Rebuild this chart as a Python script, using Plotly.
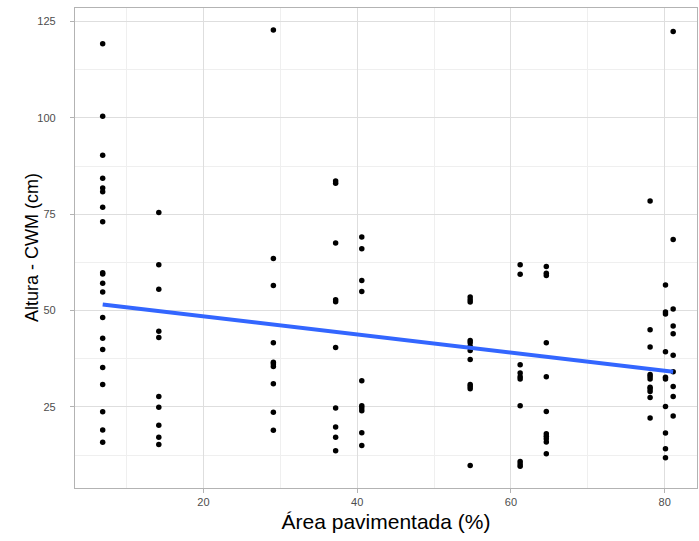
import numpy as np
import plotly.graph_objects as go

# Área pavimentada (%) per site and the Altura CWM values observed there
site_x = [6.9, 14.2, 29.1, 37.2, 40.6, 54.7, 61.2, 64.6, 78.1, 80.1, 81.1]
site_values = [
    [119.2, 100.4, 90.3, 84.3, 81.8, 80.8, 76.8, 73.0, 59.8, 59.5, 57.1, 54.8,
     48.2, 42.8, 39.9, 35.2, 30.8, 23.7, 19.0, 15.8],
    [75.4, 61.9, 55.5, 44.6, 43.0, 27.7, 24.9, 20.2, 17.1, 15.2],
    [122.8, 63.5, 56.5, 41.6, 36.6, 36.1, 35.5, 31.0, 23.6, 18.9],
    [83.6, 83.0, 67.5, 52.8, 52.3, 40.4, 24.7, 19.8, 17.1, 13.6],
    [69.1, 66.0, 57.8, 54.9, 31.8, 25.3, 24.7, 24.0, 18.3, 15.0],
    [53.5, 52.8, 52.2, 42.2, 41.6, 40.7, 39.6, 37.3, 30.8, 30.3, 29.7, 9.8],
    [61.9, 59.4, 35.9, 33.8, 32.8, 32.2, 25.3, 10.8, 10.2, 9.6],
    [61.4, 59.7, 59.1, 41.6, 32.8, 23.8, 18.0, 17.4, 16.7, 15.9, 12.8],
    [78.4, 45.0, 40.5, 33.4, 32.9, 32.2, 30.1, 29.6, 29.0, 27.4, 22.1],
    [56.6, 49.6, 49.1, 39.3, 32.7, 32.2, 25.1, 18.2, 14.1, 11.8],
    [122.4, 68.4, 50.4, 46.0, 44.0, 38.4, 34.1, 30.3, 27.7, 22.6],
]

x_ticks = [20, 40, 60, 80]
y_ticks = [25, 50, 75, 100, 125]
x_title = "Área pavimentada (%)"
y_title = "Altura - CWM (cm)"

xs = []
ys = []
for sx, vals in zip(site_x, site_values):
    xs.extend([sx] * len(vals))
    ys.extend(vals)
xs = np.array(xs)
ys = np.array(ys)

slope, intercept = np.polyfit(xs, ys, 1)
line_x = np.array([xs.min(), xs.max()])
line_y = intercept + slope * line_x

fig = go.Figure()
fig.add_trace(go.Scatter(
    x=xs, y=ys, mode="markers",
    marker=dict(color="black", size=5.5, line=dict(width=0)),
    showlegend=False, hoverinfo="x+y",
))
fig.add_trace(go.Scatter(
    x=line_x, y=line_y, mode="lines",
    line=dict(color="#3366FF", width=4),
    showlegend=False,
))

grid_major = "#dedede"
grid_minor = "#efefef"
border = "#b3b3b3"

fig.update_layout(
    width=699, height=541,
    margin=dict(l=75, r=2, t=8, b=53),
    paper_bgcolor="white",
    plot_bgcolor="white",
    font=dict(family="Liberation Sans, Arial, sans-serif", color="#4d4d4d"),
    xaxis=dict(
        range=[3.3, 84.2],
        tickvals=x_ticks,
        ticks="outside", ticklen=4, tickcolor=border, tickwidth=1,
        tickfont=dict(size=11, color="#4d4d4d"),
        showgrid=True, gridcolor=grid_major, gridwidth=1,
        minor=dict(tickvals=[10, 30, 50, 70], showgrid=True,
                   gridcolor=grid_minor, gridwidth=0.6, ticks=""),
        showline=True, linecolor=border, linewidth=1.3, mirror=True,
        zeroline=False,
        title=dict(text=x_title, font=dict(size=21, color="black"), standoff=6),
        automargin=False,
    ),
    yaxis=dict(
        range=[3.94, 128.5],
        tickvals=y_ticks,
        ticks="outside", ticklen=4, tickcolor=border, tickwidth=1,
        ticklabelstandoff=12,
        tickfont=dict(size=11, color="#4d4d4d"),
        showgrid=True, gridcolor=grid_major, gridwidth=1,
        minor=dict(tickvals=[12.5, 37.5, 62.5, 87.5, 112.5], showgrid=True,
                   gridcolor=grid_minor, gridwidth=0.6, ticks=""),
        showline=True, linecolor=border, linewidth=1.3, mirror=True,
        zeroline=False,
        automargin=False,
    ),
    annotations=[dict(
        text=y_title, textangle=-90,
        xref="paper", yref="paper", x=0, y=0.5,
        xanchor="center", yanchor="middle", xshift=-43,
        showarrow=False, font=dict(size=18, color="black"),
    )],
)

fig.write_html(
    "out.html",
    config={"displayModeBar": False},
    post_script="document.body.style.margin='0';document.body.style.overflow='hidden';",
)
